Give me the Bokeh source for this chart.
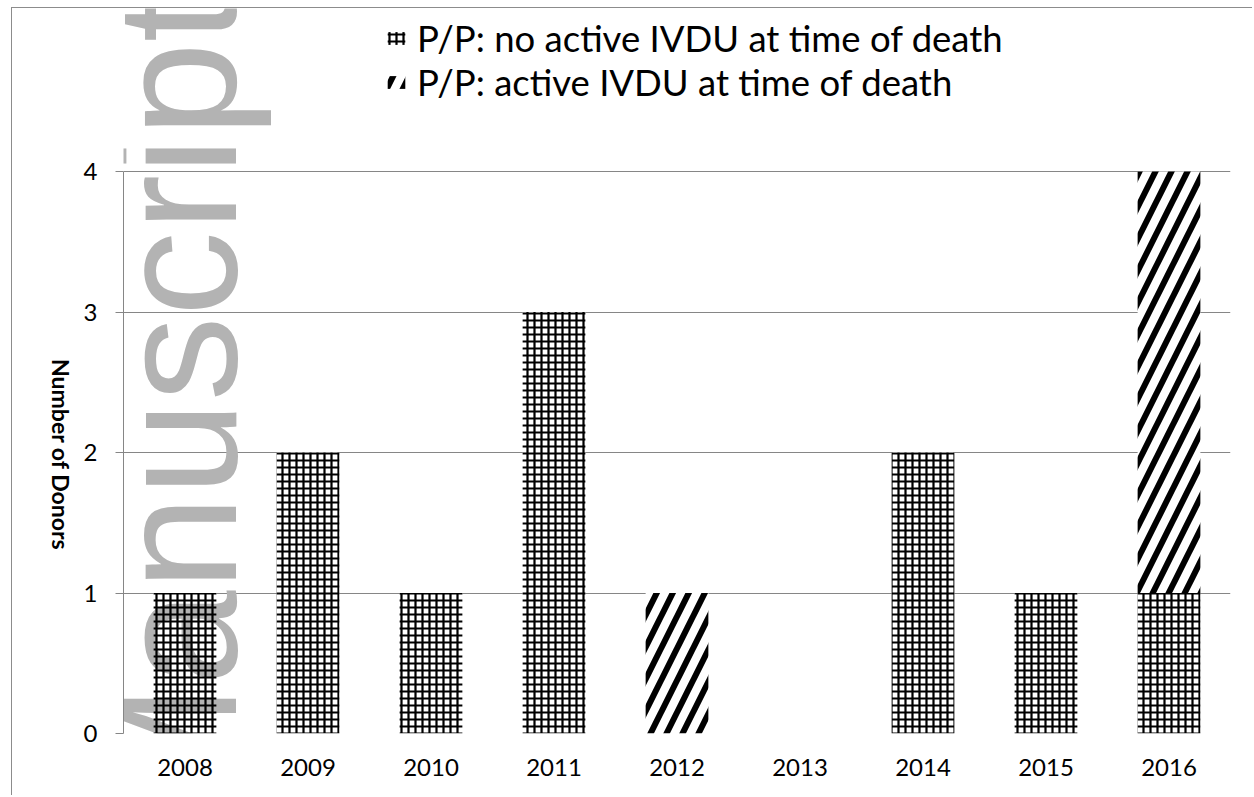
import math
from bokeh.plotting import figure
from bokeh.models import (Range1d, Legend, LegendItem, ColumnDataSource, FixedTicker, LinearAxis)
from bokeh.core.properties import value
from bokeh.embed import file_html
from bokeh.resources import INLINE

# ---- data ----
years = ["2008", "2009", "2010", "2011", "2012", "2013", "2014", "2015", "2016"]
no_active_ivdu = [1, 2, 1, 3, 0, 0, 2, 1, 1]
active_ivdu = [0, 0, 0, 0, 1, 0, 0, 0, 3]
series_labels = ["P/P: no active IVDU at time of death", "P/P: active IVDU at time of death"]
y_ticks = [0, 1, 2, 3, 4]
y_title = "Number of Donors"
watermark_text = "Manuscript"

xpos = list(range(len(years)))
total = [a + b for a, b in zip(no_active_ivdu, active_ivdu)]
source = ColumnDataSource(dict(x=xpos, no=no_active_ivdu, act=active_ivdu, total=total))

GRID = "#868686"

# ---- layout (pixels) ----
W, H = 1241, 788
ML, MR, MB = 111, 23, 63
UNIT_PX = 140.5                       # pixels per donor
frame_h = H - MB
y_top = frame_h / UNIT_PX             # frame reaches the top of the canvas

p = figure(x_range=Range1d(-0.5, len(years) - 0.5), y_range=Range1d(0, y_top),
           width=W, height=H, output_backend="svg", toolbar_location=None,
           min_border_left=ML, min_border_right=MR, min_border_top=0, min_border_bottom=MB)
p.styles = {"border-left": "1px solid #8c8c8c", "border-top": "1px solid #8c8c8c",
            "margin-left": "11px", "margin-top": "7px"}
p.outline_line_color = None
p.background_fill_color = "white"
p.border_fill_color = "white"

p.xgrid.visible = False
p.ygrid.ticker = FixedTicker(ticks=y_ticks)
p.ygrid.grid_line_color = GRID
p.ygrid.grid_line_width = 1

yax = p.yaxis[0]
yax.bounds = (y_ticks[0], y_ticks[-1])
yax.ticker = FixedTicker(ticks=y_ticks)
yax.axis_line_color = GRID
yax.major_tick_line_color = GRID
yax.major_tick_out = 8
yax.major_tick_in = 0
yax.minor_tick_line_color = None
yax.major_label_standoff = 18
yax.major_label_text_font = "Lato"
yax.major_label_text_font_size = "24px"
yax.major_label_text_color = "black"

# y title, written top-to-bottom; the rotated label ends at its tick,
# so the tick sits below the middle of the value axis
title_pos = (733 - 550) / UNIT_PX
tax = LinearAxis(ticker=FixedTicker(ticks=[title_pos]), major_label_overrides={title_pos: y_title},
                 major_label_orientation=-math.pi / 2,
                 axis_line_color=None, major_tick_line_color=None, minor_tick_line_color=None,
                 major_label_standoff=14, major_label_text_font="Lato",
                 major_label_text_font_style="bold", major_label_text_font_size="23px",
                 major_label_text_color="black")
p.add_layout(tax, "left")

xax = p.xaxis[0]
xax.ticker = FixedTicker(ticks=xpos)
xax.major_label_overrides = {i: y for i, y in zip(xpos, years)}
xax.axis_line_color = None
xax.major_tick_line_color = None
xax.minor_tick_line_color = None
xax.major_label_standoff = 19
xax.major_label_text_font = "Lato"
xax.major_label_text_font_size = "24px"
xax.major_label_text_color = "black"

# white backing of bars
p.vbar(x="x", top="total", width=0.51, source=source, fill_color="white", line_color=None)

# watermark
p.text(x=[(176 - 184.5) / 123.0], y=[(733 - 826) / UNIT_PX], text=[watermark_text],
       angle=math.pi / 2, text_font=value("Liberation Sans"), text_font_size="170px",
       text_color="#b3b3b3", text_align="left", text_baseline="alphabetic")

renderers = p.vbar_stack(["no", "act"], x="x", width=0.51, source=source,
                         fill_alpha=0, line_color=None,
                         hatch_pattern=["cross", "right_diagonal_line"],
                         hatch_color="black", hatch_scale=[7, 32], hatch_weight=[2.2, 6])

legend = Legend(items=[LegendItem(label=series_labels[0], renderers=[renderers[0]]),
                       LegendItem(label=series_labels[1], renderers=[renderers[1]])],
                location=(385 - 123, 733 - 104), orientation="vertical",
                border_line_color=None, background_fill_alpha=0,
                padding=0, margin=0, spacing=0,
                glyph_width=22, glyph_height=16, label_standoff=10,
                label_text_font="Lato", label_text_font_size="36.5px",
                label_text_color="black")
p.add_layout(legend)

open("out.html", "w").write(file_html(p, INLINE))
